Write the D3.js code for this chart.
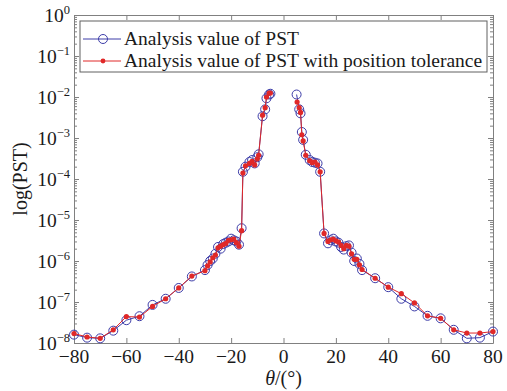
<!DOCTYPE html>
<html>
<head>
<meta charset="utf-8">
<script src="https://cdn.jsdelivr.net/npm/d3@7"></script>
<style>
  body { margin: 0; background: #fff; }
  svg { display: block; font-family: "Liberation Serif", "Times New Roman", serif; }
</style>
</head>
<body>
<svg id="chart" width="507" height="391"></svg>
<script>
// analysis value of PST (blue circles)
const thetaPst = [-80, -75, -70, -65, -60, -55, -50, -45, -40, -35, -30, -29, -28, -27, -26, -25, -24, -23, -22, -21, -20, -19, -18, -17, -16,
    -15.5, -14.5, -13, -12, -11, -10, -9.5, -8, -7, -6.5, -5.5, -5,
    5, 6, 6.5, 7, 7.5, 8.5, 10, 11, 12, 13, 14,
    15.5, 17, 18, 19, 20, 21, 22, 23, 24, 25, 26, 27, 28, 29, 30, 35, 40, 45, 50, 55, 60, 65, 70, 75, 80];
const pst = [1.6e-8, 1.35e-8, 1.3e-8, 2.0e-8, 3.6e-8, 4.5e-8, 8.5e-8, 1.2e-7, 2.2e-7, 4.2e-7, 6.0e-7, 8.0e-7, 1.0e-6, 1.15e-6, 1.5e-6, 2.2e-6, 2.0e-6, 2.6e-6, 2.8e-6, 3.0e-6, 3.5e-6, 3.2e-6, 3.0e-6, 2.5e-6, 6.3e-6,
    1.5e-4, 2.0e-4, 2.6e-4, 2.9e-4, 2.4e-4, 3.4e-4, 4.0e-4, 3.4e-3, 5.0e-3, 9.3e-3, 1.15e-2, 1.2e-2,
    1.15e-2, 5.0e-3, 4.0e-3, 1.4e-3, 9.0e-4, 3.9e-4, 2.9e-4, 2.6e-4, 2.5e-4, 2.4e-4, 1.5e-4,
    4.7e-6, 2.7e-6, 3.2e-6, 3.5e-6, 3.0e-6, 2.8e-6, 2.2e-6, 1.9e-6, 2.3e-6, 2.4e-6, 1.6e-6, 1.0e-6, 1.15e-6, 8.5e-7, 6.0e-7, 3.8e-7, 2.3e-7, 1.2e-7, 7.8e-8, 4.6e-8, 4.0e-8, 2.1e-8, 1.3e-8, 1.35e-8, 1.9e-8];

// analysis value of PST with position tolerance (red dots)
const thetaTol = [-80, -75, -70, -65, -60, -55, -50, -45, -40, -35, -30, -29, -28, -27, -26, -25, -24, -23, -22, -21, -20, -19, -18, -17, -16,
    -15.5, -14.5, -13, -12, -11, -10, -9.5, -8, -7, -6.5, -5.5, -5,
    5.2, 6, 6.5, 7, 7.5, 8.5, 10, 11, 12, 13, 14,
    15.5, 17, 18, 19, 20, 21, 22, 23, 24, 25, 26, 27, 28, 29, 30, 35, 40, 45, 50, 55, 60, 65, 70, 75, 80];
const pstTol = [1.7e-8, 1.4e-8, 1.3e-8, 2.1e-8, 4.4e-8, 4.3e-8, 7.8e-8, 1.2e-7, 2.2e-7, 4.3e-7, 5.8e-7, 7.6e-7, 9.5e-7, 1.2e-6, 1.4e-6, 2.1e-6, 2.3e-6, 2.5e-6, 2.7e-6, 3.2e-6, 3.3e-6, 3.4e-6, 2.8e-6, 2.3e-6, 5.5e-6,
    1.4e-4, 2.1e-4, 2.4e-4, 2.7e-4, 2.2e-4, 3.1e-4, 3.8e-4, 3.6e-3, 5.5e-3, 1.0e-2, 1.25e-2, 1.25e-2,
    7.5e-3, 5.5e-3, 4.2e-3, 1.2e-3, 8.5e-4, 3.8e-4, 2.8e-4, 2.5e-4, 2.6e-4, 2.2e-4, 1.5e-4,
    4.7e-6, 3.0e-6, 3.3e-6, 3.4e-6, 3.1e-6, 2.9e-6, 2.4e-6, 2.0e-6, 2.4e-6, 2.3e-6, 1.5e-6, 1.1e-6, 1.1e-6, 8.0e-7, 6.2e-7, 3.8e-7, 2.3e-7, 1.6e-7, 9.5e-8, 4.6e-8, 4.0e-8, 2.1e-8, 1.75e-8, 1.75e-8, 1.9e-8];

const xTicks = [-80, -60, -40, -20, 0, 20, 40, 60, 80];
const yExponents = [0, -1, -2, -3, -4, -5, -6, -7, -8];
const legendLabels = ["Analysis value of PST", "Analysis value of PST with position tolerance"];

const margin = { left: 74, right: 14, top: 15, bottom: 48 };
const width = 507, height = 391;
const blue = "#3c3ca8", red = "#e02828", frame = "#808080", ink = "#1a1a1a";

const svg = d3.select("#chart");
const x = d3.scaleLinear().domain([-80, 80]).range([margin.left, width - margin.right]);
const y = d3.scaleLog().domain([1e-8, 1]).range([height - margin.bottom, margin.top]);

const minorY = [];
for (let e = -8; e < 0; e++) {
    for (let m = 2; m <= 9; m++) minorY.push(m * Math.pow(10, e));
}
const majorY = yExponents.map(e => Math.pow(10, e));

function styleAxis(g) {
    g.select(".domain").attr("stroke", frame);
    g.selectAll(".tick line").attr("stroke", frame);
    g.selectAll(".tick text").remove();
}

const x0 = x.range()[0], x1 = x.range()[1], y0 = y.range()[0], y1 = y.range()[1];

// inward ticks on all four sides
svg.append("g").attr("transform", `translate(0,${y0})`)
    .call(d3.axisBottom(x).tickValues(xTicks).tickSize(-5).tickSizeOuter(0)).call(styleAxis);
svg.append("g").attr("transform", `translate(0,${y1})`)
    .call(d3.axisTop(x).tickValues(xTicks).tickSize(-5).tickSizeOuter(0)).call(styleAxis);
svg.append("g").attr("transform", `translate(${x0},0)`)
    .call(d3.axisLeft(y).tickValues(majorY).tickSize(-5).tickSizeOuter(0)).call(styleAxis);
svg.append("g").attr("transform", `translate(${x1},0)`)
    .call(d3.axisRight(y).tickValues(majorY).tickSize(-5).tickSizeOuter(0)).call(styleAxis);
svg.append("g").attr("transform", `translate(${x0},0)`)
    .call(d3.axisLeft(y).tickValues(minorY).tickSize(-3).tickSizeOuter(0)).call(styleAxis)
    .select(".domain").remove();
svg.append("g").attr("transform", `translate(${x1},0)`)
    .call(d3.axisRight(y).tickValues(minorY).tickSize(-3).tickSizeOuter(0)).call(styleAxis)
    .select(".domain").remove();

// tick labels
svg.append("g").selectAll("text").data(xTicks).join("text")
    .attr("x", d => x(d)).attr("y", y0 + 20)
    .attr("text-anchor", "middle").attr("font-size", 19.5).attr("fill", ink)
    .text(d => d < 0 ? "\u2212" + Math.abs(d) : d);

const yl = svg.append("g").selectAll("text").data(yExponents).join("text")
    .attr("x", x0 - 4).attr("y", d => y(Math.pow(10, d)) + 7)
    .attr("text-anchor", "end").attr("font-size", 19.5).attr("fill", ink);
yl.append("tspan").text("10");
yl.append("tspan").attr("dy", -8).attr("font-size", 12.5)
    .text(d => d < 0 ? "\u2212" + Math.abs(d) : d);

// axis titles
svg.append("text")
    .attr("x", x(0)).attr("y", height - 6)
    .attr("text-anchor", "middle").attr("font-size", 20).attr("fill", ink)
    .call(t => {
        t.append("tspan").attr("font-style", "italic").text("\u03b8");
        t.append("tspan").text("/(\u00b0)");
    });
svg.append("text")
    .attr("transform", `translate(27,${(y0 + y1) / 2}) rotate(-90)`)
    .attr("text-anchor", "middle").attr("font-size", 20).attr("fill", ink)
    .text("log(PST)");

// series: the two lobes are drawn as separate branches (no line across 0)
const line = d3.line().x(d => x(d[0])).y(d => y(d[1]));
const pstPts = d3.zip(thetaPst, pst);
const tolPts = d3.zip(thetaTol, pstTol);
const branches = pts => [pts.filter(d => d[0] < 0), pts.filter(d => d[0] > 0)];

svg.append("g").selectAll("path").data(branches(pstPts)).join("path")
    .attr("d", line)
    .attr("fill", "none").attr("stroke", blue).attr("stroke-width", 1);
svg.append("g").selectAll("circle").data(pstPts).join("circle")
    .attr("cx", d => x(d[0])).attr("cy", d => y(d[1])).attr("r", 4.5)
    .attr("fill", "none").attr("stroke", blue).attr("stroke-width", 1);

svg.append("g").selectAll("path").data(branches(tolPts)).join("path")
    .attr("d", line)
    .attr("fill", "none").attr("stroke", red).attr("stroke-width", 1);
svg.append("g").selectAll("circle").data(tolPts).join("circle")
    .attr("cx", d => x(d[0])).attr("cy", d => y(d[1])).attr("r", 2.6)
    .attr("fill", red);

// legend
const lg = svg.append("g").attr("transform", "translate(80,21)");
lg.append("rect").attr("width", 407).attr("height", 51)
    .attr("fill", "#fff").attr("stroke", "#606060").attr("stroke-width", 1);
const rows = lg.selectAll("g.row").data(legendLabels).join("g")
    .attr("class", "row").attr("transform", (d, i) => `translate(0,${18 + i * 22})`);
rows.append("line").attr("x1", 3).attr("x2", 41)
    .attr("stroke", (d, i) => i === 0 ? blue : red).attr("stroke-width", 1);
rows.filter((d, i) => i === 0).append("circle").attr("cx", 23).attr("r", 4.5)
    .attr("fill", "none").attr("stroke", blue);
rows.filter((d, i) => i === 1).append("circle").attr("cx", 23).attr("r", 2.4)
    .attr("fill", red);
rows.append("text").attr("x", 44).attr("y", 6)
    .attr("font-size", 19.5).attr("fill", ink).text(d => d);
</script>
</body>
</html>
